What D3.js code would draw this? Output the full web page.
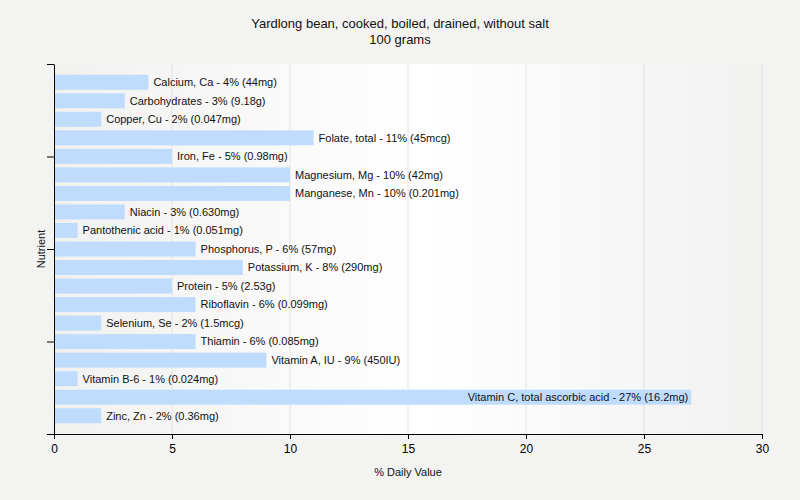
<!DOCTYPE html>
<html>
<head>
<meta charset="utf-8">
<script src="https://cdn.jsdelivr.net/npm/d3@7"></script>
<style>
  body { margin: 0; background: #f3f3f2; }
  svg { display: block; font-family: "Liberation Sans", Arial, sans-serif; }
</style>
</head>
<body>
<svg id="grafico" width="800" height="500"></svg>
<script>
var nutrientes = ["Calcium, Ca", "Carbohydrates", "Copper, Cu", "Folate, total", "Iron, Fe",
    "Magnesium, Mg", "Manganese, Mn", "Niacin", "Pantothenic acid", "Phosphorus, P",
    "Potassium, K", "Protein", "Riboflavin", "Selenium, Se", "Thiamin", "Vitamin A, IU",
    "Vitamin B-6", "Vitamin C, total ascorbic acid", "Zinc, Zn"];
var percentuais = [4, 3, 2, 11, 5, 10, 10, 3, 1, 6, 8, 5, 6, 2, 6, 9, 1, 27, 2];
var quantidades = ["44mg", "9.18g", "0.047mg", "45mcg", "0.98mg", "42mg", "0.201mg", "0.630mg",
    "0.051mg", "57mg", "290mg", "2.53g", "0.099mg", "1.5mcg", "0.085mg", "450IU", "0.024mg",
    "16.2mg", "0.36mg"];
var ticksX = [0, 5, 10, 15, 20, 25, 30];

var svg = d3.select("#grafico");
var esq = 54, dir = 762, topo = 64, base = 434;

// fundo da area do grafico (degrade)
var defs = svg.append("defs");
var grad = defs.append("linearGradient").attr("id", "fundo").attr("x1", "0").attr("x2", "1");
grad.append("stop").attr("offset", "0").attr("stop-color", "#f1f1f0");
grad.append("stop").attr("offset", "0.52").attr("stop-color", "#ffffff");
grad.append("stop").attr("offset", "1").attr("stop-color", "#f1f1f0");
svg.append("rect").attr("x", esq).attr("y", topo).attr("width", dir - esq).attr("height", base - topo)
    .attr("fill", "url(#fundo)");

var x = d3.scaleLinear().domain([0, 30]).range([esq, dir]);
var y = d3.scaleBand().domain(nutrientes).range([73, 425]).paddingInner(0.19).paddingOuter(0.095);

// linhas de grade
svg.append("g").selectAll("line").data(ticksX.slice(1)).enter().append("line")
    .attr("x1", d => x(d)).attr("x2", d => x(d)).attr("y1", topo).attr("y2", base)
    .attr("stroke", "#e2e2e2").attr("stroke-width", 1);

// barras
svg.append("g").selectAll("rect").data(nutrientes).enter().append("rect")
    .attr("x", x(0)).attr("y", d => y(d))
    .attr("width", (d, i) => x(percentuais[i]) - x(0))
    .attr("height", y.bandwidth())
    .attr("fill", "#c0dcfd");

// rotulos
svg.append("g").selectAll("text").data(nutrientes).enter().append("text")
    .attr("x", (d, i) => percentuais[i] > 20 ? x(percentuais[i]) - 3 : x(percentuais[i]) + 5)
    .attr("y", d => y(d) + y.bandwidth() / 2)
    .attr("dy", "0.35em")
    .attr("text-anchor", (d, i) => percentuais[i] > 20 ? "end" : "start")
    .attr("font-size", 11).attr("fill", "#111")
    .text((d, i) => d + " - " + percentuais[i] + "% (" + quantidades[i] + ")");

// eixo x
var eixoX = svg.append("g").attr("transform", "translate(0," + base + ")")
    .call(d3.axisBottom(x).tickValues(ticksX).tickSize(5).tickSizeOuter(0));
eixoX.select(".domain").attr("stroke", "#000");
eixoX.selectAll("text").attr("font-size", 12).attr("fill", "#000").attr("font-family", "Liberation Sans, Arial, sans-serif").attr("dy", "0.9em");

// eixo y (so marcas)
var yTicks = d3.scaleLinear().domain([0, 4]).range([base, topo]);
var eixoY = svg.append("g").attr("transform", "translate(" + esq + ",0)")
    .call(d3.axisLeft(yTicks).ticks(4).tickSize(7).tickSizeOuter(0).tickFormat(""));
eixoY.select(".domain").attr("stroke", "#000");

// titulos
svg.append("text").attr("x", 400).attr("y", 28).attr("text-anchor", "middle")
    .attr("font-size", 13).attr("fill", "#111").text("Yardlong bean, cooked, boiled, drained, without salt");
svg.append("text").attr("x", 400).attr("y", 44).attr("text-anchor", "middle")
    .attr("font-size", 13).attr("fill", "#111").text("100 grams");
svg.append("text").attr("x", 408).attr("y", 476).attr("text-anchor", "middle")
    .attr("font-size", 11).attr("fill", "#111").text("% Daily Value");
svg.append("text").attr("transform", "translate(45,249) rotate(-90)").attr("text-anchor", "middle")
    .attr("font-size", 11).attr("fill", "#111").text("Nutrient");
</script>
</body>
</html>
